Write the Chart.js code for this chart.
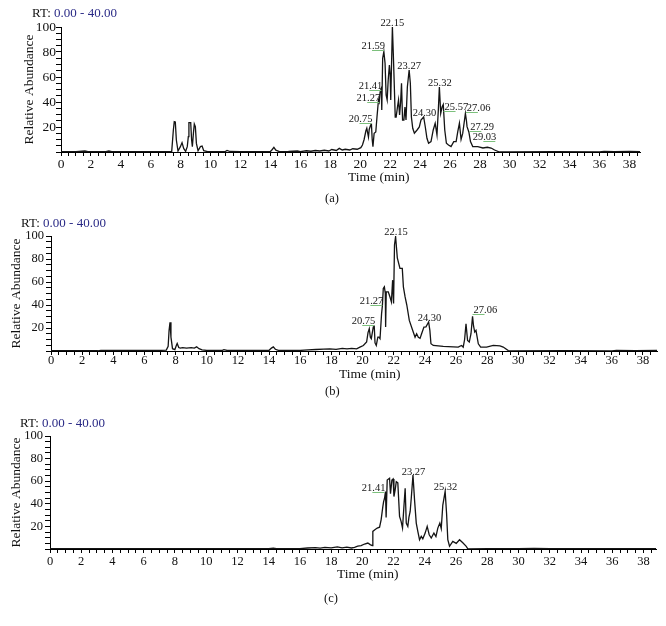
<!DOCTYPE html>
<html><head><meta charset="utf-8">
<script src="https://cdn.jsdelivr.net/npm/chart.js@4.4.1/dist/chart.umd.min.js"></script>
<style>
html,body{margin:0;padding:0;background:#fff;}
#wrap{position:relative;width:666px;height:626px;overflow:hidden;font-family:"Liberation Serif",serif;}
canvas{position:absolute;left:0;}
.t{position:absolute;white-space:nowrap;line-height:13px;font-size:13px;color:#111;font-family:"Liberation Serif",serif;}
.rt span{color:#2a2a86;}
</style></head><body>
<div id="wrap">
<canvas id="cA" width="666" height="205" style="top:0px"></canvas>
<canvas id="cB" width="666" height="205" style="top:205px"></canvas>
<canvas id="cC" width="666" height="216" style="top:410px"></canvas>
<div class="t rt" style="left:32px;top:6px">RT: <span>0.00 - 40.00</span></div>
<div class="t rt" style="left:21px;top:216px">RT: <span>0.00 - 40.00</span></div>
<div class="t rt" style="left:20px;top:416px">RT: <span>0.00 - 40.00</span></div>
<div class="t" style="left:348px;top:170px;font-size:13.5px">Time (min)</div>
<div class="t" style="left:339px;top:367px;font-size:13.5px">Time (min)</div>
<div class="t" style="left:337px;top:567px;font-size:13.5px">Time (min)</div>
<div class="t" style="left:325px;top:192px;font-size:12.5px">(a)</div>
<div class="t" style="left:325px;top:385px;font-size:12.5px">(b)</div>
<div class="t" style="left:324px;top:592px;font-size:12.5px">(c)</div>
</div>
<script>
// ---- data: [retention time (min), relative abundance (%)] ----
const traceA = [
[0,0.3],[1.0,0.2],[1.6,0.8],[1.8,0.3],[3.0,0.3],[3.2,0.8],[3.4,0.3],[5.0,0.2],[7.0,0.3],[7.4,0.5],
[7.51,17.6],[7.57,24.3],[7.64,24],[7.71,9.6],[7.82,0.8],[7.98,4.3],[8.09,7.5],[8.2,2.9],[8.33,0.5],[8.44,4.3],
[8.51,12.3],[8.55,23.5],[8.67,23.5],[8.73,9.6],[8.78,4.3],[8.85,14.9],[8.91,22.4],[8.98,20.3],[9.05,6.9],[9.16,1],
[9.32,4.3],[9.43,4.8],[9.54,1],[9.8,0.3],[10.5,0.3],[11.0,0.5],[11.1,1.2],[11.3,0.4],[12.0,0.3],[13.0,0.2],
[14.0,0.4],[14.12,2],[14.23,3.7],[14.36,1.5],[14.6,0.3],[15.2,0.4],[15.8,0.8],[16.0,0.3],[16.4,1.0],[16.7,0.6],
[17.0,1.2],[17.3,0.8],[17.6,1.4],[17.9,0.8],[18.1,2],[18.4,1.2],[18.6,2.9],[18.8,1.6],[19.0,2.2],[19.3,1.6],
[19.5,2.6],[19.8,2.2],[20.04,3.5],[20.15,5.6],[20.26,10],[20.38,17],[20.44,19],[20.5,15],[20.55,12],[20.6,18],
[20.7,21.6],[20.75,22],[20.8,10],[20.85,4.3],[20.93,15],[21.04,16],[21.12,28],[21.22,41.6],[21.27,40],[21.33,48],
[21.38,50],[21.41,51],[21.44,33.6],[21.5,75],[21.58,80.3],[21.66,71],[21.73,45.6],[21.8,41.6],[21.87,57.6],[21.95,69.6],
[22.0,62],[22.04,41.6],[22.15,100],[22.21,79],[22.28,52],[22.34,28],[22.4,28],[22.49,36],[22.56,41.6],[22.63,29.6],
[22.7,40],[22.76,55],[22.83,25.6],[22.92,25.6],[22.99,36],[23.06,25.6],[23.15,52],[23.27,65.6],[23.35,55],[23.42,28],
[23.51,19],[23.62,15],[23.8,17.6],[23.95,20],[24.06,25.6],[24.24,28],[24.35,20],[24.46,11],[24.57,7],[24.73,8.3],
[24.88,17.6],[25.01,23],[25.13,13.6],[25.22,33.6],[25.29,52],[25.38,31],[25.47,36],[25.55,38],[25.65,17.6],[25.76,7],
[25.9,5.6],[26.07,4.3],[26.25,8.3],[26.41,8.3],[26.52,16.3],[26.63,23],[26.74,10],[26.85,14.9],[27.03,30.9],[27.1,25],
[27.14,20.3],[27.26,16],[27.37,8.3],[27.52,4.3],[27.86,4.3],[28.2,3.2],[28.5,3.8],[28.75,3.2],[28.98,1.6],[29.31,0],
[30,0],[33,0.2],[36,0],[36.3,0.5],[37,0.3],[38,0.5],[38.7,0.3]
];
const traceB = [
[0,0.2],[3.0,0.2],[3.2,0.6],[5,0.5],[7,0.5],[7.4,0.8],[7.52,4],[7.58,18],[7.64,25],[7.7,12],
[7.8,2],[7.95,1.2],[8.05,5],[8.1,6.6],[8.2,3],[8.3,2.5],[8.45,3],[8.7,2.5],[9.0,3],[9.2,2.5],
[9.35,3.6],[9.5,2],[9.7,1],[10.0,0.5],[11.0,0.6],[11.1,1.2],[11.3,0.5],[14.0,0.6],[14.15,2.5],[14.27,3.6],
[14.4,1.5],[14.6,0.6],[16.0,0.5],[16.5,1.0],[17.0,1.3],[17.5,1.6],[17.9,1.9],[18.3,1.5],[18.7,2.2],[19.0,1.8],
[19.3,2.3],[19.62,1.9],[19.83,3.4],[20.05,4.8],[20.26,7.8],[20.35,16],[20.43,19.4],[20.5,12],[20.56,10.7],[20.69,21],
[20.75,21.5],[20.8,7],[20.88,4.8],[20.98,12],[21.05,12],[21.12,10.7],[21.22,32.5],[21.27,39],[21.33,54.3],[21.4,55.8],
[21.46,50],[21.48,20.8],[21.52,51.4],[21.65,51.4],[21.76,47],[21.85,42.7],[21.93,61.6],[21.99,41.3],[22.05,92.2],[22.12,99.4],
[22.23,81],[22.4,71.8],[22.55,71.8],[22.62,55.8],[22.73,47],[22.84,40],[23.0,26.6],[23.22,17.9],[23.37,12],[23.47,15],
[23.58,12],[23.69,11],[23.79,15],[23.94,20.8],[24.07,21],[24.24,25.2],[24.32,17.9],[24.39,6.3],[24.54,4.8],[25.18,4],
[25.82,3.6],[26.14,3.4],[26.35,4.8],[26.46,3.4],[26.55,10],[26.64,23.7],[26.74,9.2],[26.85,7.8],[26.96,15],[27.06,30.2],
[27.12,22],[27.2,16.5],[27.28,17.9],[27.43,6.3],[27.58,3.4],[27.96,3.4],[28.39,4.9],[28.82,4.5],[29.03,3.4],[29.35,0.4],
[29.6,0],[33,0.2],[36,0],[36.3,0.5],[37.5,0.4],[38.9,0.5]
];
const traceC = [
[0,0.2],[2,0.3],[4,0.2],[6,0.3],[8,0.2],[10,0.3],[12,0.4],[14,0.3],[14.3,0.8],[14.5,0.3],
[16,0.3],[16.5,0.9],[17.0,1.2],[17.3,0.8],[17.6,1.5],[18.0,1.0],[18.4,1.8],[18.7,1.0],[19.0,1.6],[19.3,0.9],
[19.5,1.5],[19.7,2.5],[19.92,3.0],[20.14,4.4],[20.35,5.3],[20.5,3.9],[20.63,3.0],[20.67,15.6],[20.8,17],[20.95,18.5],
[21.1,19.3],[21.2,25.8],[21.31,37.5],[21.36,42],[21.42,44.9],[21.48,50.8],[21.52,28],[21.59,61],[21.74,62.6],[21.8,49],
[21.89,61],[21.97,62],[22.02,46.4],[22.1,52.3],[22.17,59.6],[22.27,58.5],[22.38,28.8],[22.48,24.4],[22.57,18.5],[22.66,37.5],
[22.74,53.8],[22.81,22.9],[22.91,20],[22.98,28],[23.06,33.2],[23.13,44.9],[23.24,65.5],[23.34,43.5],[23.45,22.9],[23.55,15.6],
[23.66,8.2],[23.77,11.2],[23.87,9],[24.02,14.1],[24.15,20],[24.28,12.6],[24.41,9.7],[24.58,14.1],[24.71,11],[24.83,18.5],
[24.96,22.9],[25.05,18],[25.15,38.9],[25.3,51],[25.39,31.7],[25.47,8.2],[25.58,2.4],[25.79,6.8],[26.01,5],[26.22,8.2],
[26.43,5.5],[26.65,2.4],[26.76,0],[28,0.2],[30,0.3],[31,0.5],[32,0.3],[34,0.2],[36,0.4],[38.8,0.3]
];
// annotated peaks: retention time and label height
const peakTimesA   = [20.75, 21.27, 21.41, 21.59, 22.15, 23.27, 24.30, 25.32, 25.57, 27.06, 27.29, 29.03];
const peakHeightsA = [23.4,  40,    50,    82,    100,   65.6,  28,    52,    33,    31.7,  17,    8.8];
const peakTimesB   = [20.75, 21.27, 22.15, 24.30, 27.06];
const peakHeightsB = [23,    39.8,  100,   25.2,  32];
const peakTimesC   = [21.41, 23.27, 25.32];
const peakHeightsC = [50.3,  64.5,  51.3];

// ---- rendering ----
function makePeakPlugin(times, heights, sides) {
  return {
    id: 'peakLabels',
    afterDatasetsDraw(chart) {
      const ctx = chart.ctx, x = chart.scales.x, y = chart.scales.y;
      ctx.save();
      ctx.font = '10.5px "Liberation Serif"';
      ctx.fillStyle = '#151515';
      ctx.strokeStyle = '#7cc07c';
      ctx.lineWidth = 1;
      ctx.textBaseline = 'alphabetic';
      times.forEach((t, i) => {
        const px = x.getPixelForValue(t), py = Math.round(y.getPixelForValue(heights[i])) + 0.5;
        const txt = t.toFixed(2), s = sides[i];
        if (s === 'C') {
          ctx.textAlign = 'center';
          ctx.fillText(txt, px, py - 2);
        } else if (s === 'L') {
          ctx.beginPath(); ctx.moveTo(px - 12, py); ctx.lineTo(px, py); ctx.stroke();
          ctx.textAlign = 'right';
          ctx.fillText(txt, px + 1, py - 2);
        } else {
          ctx.beginPath(); ctx.moveTo(px, py); ctx.lineTo(px + 12, py); ctx.stroke();
          ctx.textAlign = 'left';
          ctx.fillText(txt, px + 1, py - 2);
        }
      });
      ctx.restore();
    }
  };
}

function makeChart(id, trace, times, heights, cfg) {
  const fam = '"Liberation Serif", serif';
  return new Chart(document.getElementById(id), {
    type: 'line',
    data: { datasets: [{
      data: trace.map(p => ({ x: p[0], y: p[1] })),
      borderColor: '#141414', borderWidth: 1.3, pointRadius: 0, tension: 0, fill: false
    }]},
    options: {
      responsive: false, animation: false, events: [],
      layout: { padding: { top: cfg.top, right: cfg.right, left: 0, bottom: 0 } },
      plugins: { legend: { display: false }, tooltip: { enabled: false } },
      scales: {
        x: {
          type: 'linear', min: 0, max: cfg.xMax,
          afterFit(s) { s.height = cfg.xH; },
          border: { display: true, color: '#000', width: 1 },
          grid: { drawOnChartArea: false, drawTicks: true, tickLength: 4, tickColor: '#000' },
          ticks: { stepSize: 0.5, autoSkip: false, maxRotation: 0, minRotation: 0, includeBounds: false,
                   padding: cfg.xPad, color: '#111', font: { family: fam, size: cfg.tickSize },
                   callback: v => (v % 2 === 0 ? String(v) : '') }
        },
        y: {
          min: 0, max: 100,
          afterFit(s) { s.width = cfg.left; },
          border: { display: true, color: '#000', width: 1 },
          grid: { drawOnChartArea: false, drawTicks: true, tickLength: 5, tickColor: '#000' },
          ticks: { stepSize: 5, autoSkip: false, padding: cfg.yPad, color: '#111',
                   font: { family: fam, size: cfg.tickSize },
                   callback: v => (v > 0 && v % 20 === 0 ? String(v) : '') },
          title: { display: true, text: 'Relative Abundance', color: '#111',
                   font: { family: fam, size: 13.5 }, padding: { top: cfg.titlePad, bottom: 0 } }
        }
      }
    },
    plugins: [makePeakPlugin(times, heights, cfg.sides)]
  });
}

makeChart('cA', traceA, peakTimesA, peakHeightsA, {
  top: 27, right: 26, left: 61, xH: 53, xMax: 38.7, xPad: 0, yPad: 0, tickSize: 13.5, titlePad: 21,
  sides: ['L','L','L','L','C','C','C','C','R','R','R','L']
});
makeChart('cB', traceB, peakTimesB, peakHeightsB, {
  top: 31, right: 9, left: 51, xH: 59, xMax: 38.9, xPad: -2, yPad: 2, tickSize: 12.5, titlePad: 8,
  sides: ['L','L','C','C','R']
});
makeChart('cC', traceC, peakTimesC, peakHeightsC, {
  top: 26, right: 10, left: 50, xH: 77, xMax: 38.8, xPad: 1, yPad: 2, tickSize: 12.5, titlePad: 8,
  sides: ['L','C','C']
});
</script>
</body></html>
